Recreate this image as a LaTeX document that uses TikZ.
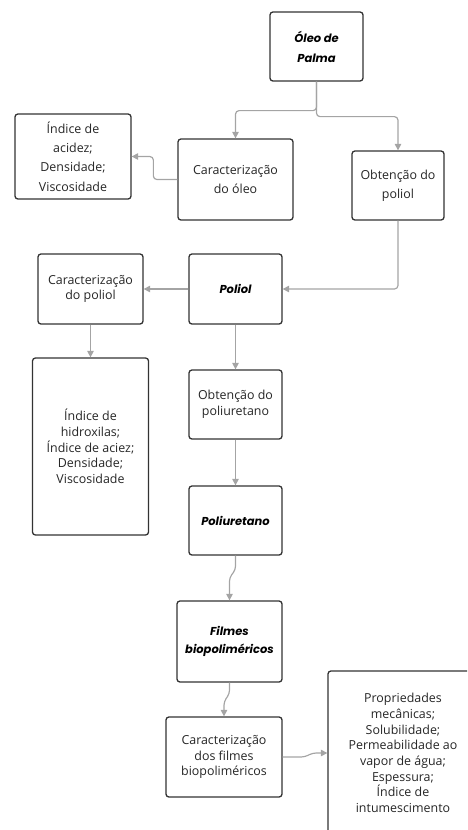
\documentclass[tikz,border=0pt]{standalone}
\usepackage{fontspec}
\setmainfont{Open Sans}
\newfontfamily\titlefont{Poppins}
\usetikzlibrary{arrows.meta}
\definecolor{linegray}{HTML}{A4A4A4}
\definecolor{boxline}{HTML}{333333}
\definecolor{txt}{HTML}{262626}

\begin{document}
\begin{tikzpicture}[x=0.03cm,y=-0.03cm,>={Triangle[length=5.5pt,width=5.5pt]},
    every node/.style={font=\fontsize{10.6}{13.4}\selectfont,text=txt,align=center},
    sz/.style 2 args={minimum width=#1*0.03cm,minimum height=#2*0.03cm},
    box/.style={draw=boxline,line width=1.1pt,rounded corners=2.5pt,inner sep=0pt},
    loose/.style={font=\fontsize{10.6}{16.5}\selectfont},
    title/.style={box,font=\titlefont\fontsize{9.8}{15}\selectfont\bfseries\itshape,text=black},
    link/.style={->,draw=linegray,line width=1pt,rounded corners=3pt}]
    \useasboundingbox (0,0) rectangle (467,830);
    \clip (0,0) rectangle (467,830);
    \node[title,sz={93}{69}] (v1) at (316.5,46.5) {Óleo de\\[2pt]Palma};
    \node[box,loose,sz={115}{81}] (v2) at (235.5,179.5) {Caracterização\\do óleo};
    \node[box,loose,sz={116}{85}] (v3) at (73,156.5) {Índice de\\acidez;\\Densidade;\\Viscosidade};
    \node[box,loose,sz={92}{69}] (v4) at (398,185.5) {Obtenção do\\poliol};
    \node[title,sz={93}{70}] (v5) at (235.5,289) {Poliol};
    \node[box,sz={105}{70}] (v6) at (90.5,289) {Caracterização\\do poliol};
    \node[box,sz={116}{177}] (v7) at (90.5,446.5) {Índice de\\hidroxilas;\\Índice de aciez;\\Densidade;\\Viscosidade};
    \node[box,sz={93}{69}] (v8) at (235.5,404.5) {Obtenção do\\poliuretano};
    \node[title,sz={93}{69}] (v9) at (235.5,520.5) {Poliuretano};
    \node[title,sz={105}{81}] (v10) at (229.5,641.5) {Filmes\\biopoliméricos};
    \node[box,sz={116}{80}] (v11) at (224,757) {Caracterização\\dos filmes\\biopoliméricos};
    \node[box,sz={150}{164}] (v12) at (403,753) {Propriedades\\mecânicas;\\Solubilidade;\\Permeabilidade ao\\vapor de água;\\Espessura;\\Índice de\\intumescimento};
    \draw[link] (v1.south) -- ++(0,29) -| (v2.north);
    \draw[link] (v1.south) -- ++(0,35) -| (v4.north);
    \draw[link] (v2.west) -- ++(-24,0) |- (v3.east);
    \draw[link] (v4.south) |- (v5.east);
    \draw[link] (v5.west) -- (v6.east);
    \draw[link] (v6.south) -- (v7.north);
    \draw[link] (v5.south) -- (v8.north);
    \draw[link] (v8.south) -- (v9.north);
    \draw[link] (v9.south) -- ++(0,14) -- ++(-6,8) -- (v10.north);
    \draw[link] (v10.south) -- ++(0,11) -- ++(-5.5,8) -- (v11.north);
    \draw[link] (v11.east) -- ++(22,0) -- ++(8,-4) -- (v12.west);
\end{tikzpicture}
\end{document}
